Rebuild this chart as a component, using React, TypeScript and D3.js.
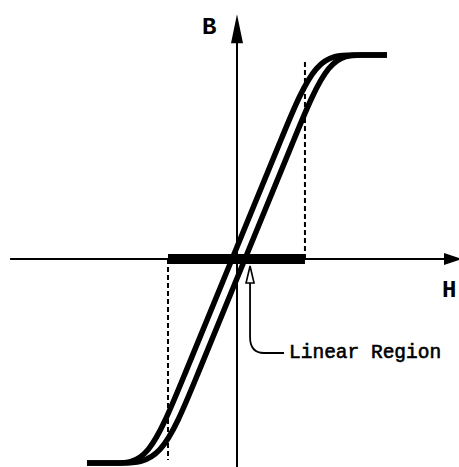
import React, { useEffect, useRef } from 'react';
import * as d3 from 'd3';

// descending branch (comes down from +saturation on the left side)
const descendingH = [1, 0.78, 0.525, 0.302, -0.033, -0.368, -0.591, -0.82, -1];
const descendingB = [1, 1, 1, 0.6, 0, -0.6, -1, -1, -1];

// ascending branch (goes up from -saturation on the right side)
const ascendingH = [-1, -0.78, -0.505, -0.282, 0.053, 0.388, 0.611, 0.84, 1];
const ascendingB = [-1, -1, -1, -0.6, 0, 0.6, 1, 1, 1];

// linear region on the H axis, and how far the dashed guides reach
const linearRegion = [-0.46, 0.453];
const guideB = [-0.985, 0.975];

// extents of the two axes
const hAxisExtent = [-1.513, 1.5];
const bAxisExtent = [-1.03, 1.2];

const pointerH = 0.087;
const axisLabels = ['H', 'B'];
const regionLabel = 'Linear Region';

const W = 459;
const H = 467;

const App = () => {
  const ref = useRef<SVGSVGElement>(null);

  useEffect(() => {
    const svg = d3.select(ref.current);
    svg.selectAll('*').remove();

    const x = d3.scaleLinear().domain([-1, 1]).range([87, 387]);
    const y = d3.scaleLinear().domain([-1, 1]).range([463, 55]);

    const line = d3
      .line<[number, number]>()
      .x(d => x(d[0]))
      .y(d => y(d[1]))
      .curve(d3.curveBasis);

    const x0 = x(0);
    const y0 = y(0);

    // H axis
    const hEnd = x(hAxisExtent[1]);
    svg.append('line')
      .attr('x1', x(hAxisExtent[0])).attr('x2', hEnd - 10)
      .attr('y1', y0).attr('y2', y0)
      .attr('stroke', '#000').attr('stroke-width', 2);
    svg.append('path')
      .attr('d', `M${hEnd},${y0} L${hEnd - 18},${y0 - 6} L${hEnd - 18},${y0 + 6} Z`)
      .attr('fill', '#000');

    // B axis
    const bTop = y(bAxisExtent[1]);
    svg.append('line')
      .attr('x1', x0).attr('x2', x0)
      .attr('y1', y(bAxisExtent[0])).attr('y2', bTop + 10)
      .attr('stroke', '#000').attr('stroke-width', 2);
    svg.append('path')
      .attr('d', `M${x0},${bTop} L${x0 - 6},${bTop + 29} L${x0 + 6},${bTop + 29} Z`)
      .attr('fill', '#000');

    // dashed guides
    linearRegion.forEach((h, i) => {
      svg.append('line')
        .attr('x1', x(h)).attr('x2', x(h))
        .attr('y1', y0).attr('y2', y(guideB[i]))
        .attr('stroke', '#000').attr('stroke-width', 2)
        .attr('stroke-dasharray', '5,3');
    });

    // linear region bar
    svg.append('rect')
      .attr('x', x(linearRegion[0]))
      .attr('y', y0 - 5)
      .attr('width', x(linearRegion[1]) - x(linearRegion[0]))
      .attr('height', 10)
      .attr('fill', '#000');

    // hysteresis branches
    const branches: [number, number][][] = [
      descendingH.map((h, i) => [h, descendingB[i]]),
      ascendingH.map((h, i) => [h, ascendingB[i]]),
    ];
    svg.selectAll('path.branch')
      .data(branches)
      .enter()
      .append('path')
      .attr('class', 'branch')
      .attr('d', d => line(d))
      .attr('fill', 'none')
      .attr('stroke', '#000')
      .attr('stroke-width', 5.5)
      .attr('stroke-linejoin', 'round');

    // pointer to the linear region
    const px = x(pointerH);
    const tipY = y0 + 7;
    svg.append('path')
      .attr('d', `M${px},${tipY + 14} L${px},${y0 + 78} Q${px},${y0 + 94} ${px + 14},${y0 + 94} L${px + 34},${y0 + 94}`)
      .attr('fill', 'none')
      .attr('stroke', '#000')
      .attr('stroke-width', 1.8);
    svg.append('path')
      .attr('d', `M${px},${tipY} L${px - 4},${tipY + 17} L${px + 4},${tipY + 17} Z`)
      .attr('fill', '#fff')
      .attr('stroke', '#000')
      .attr('stroke-width', 1.6);

    svg.append('text')
      .attr('x', px + 39)
      .attr('y', y0 + 99)
      .attr('font-family', '"Liberation Mono", "DejaVu Sans Mono", monospace')
      .attr('font-size', 19.5)
      .attr('stroke', '#000')
      .attr('stroke-width', 0.6)
      .text(regionLabel);

    // axis labels
    svg.append('text')
      .attr('x', hEnd - 20)
      .attr('y', y0 + 38)
      .attr('font-family', '"Liberation Mono", monospace')
      .attr('font-weight', 'bold')
      .attr('font-size', 24)
      .text(axisLabels[0]);
    svg.append('text')
      .attr('x', x0 - 35)
      .attr('y', bTop + 20)
      .attr('font-family', '"Liberation Mono", monospace')
      .attr('font-weight', 'bold')
      .attr('font-size', 24)
      .text(axisLabels[1]);
  }, []);

  return (
    <svg
      ref={ref}
      width={W}
      height={H}
      style={{ position: 'absolute', left: 0, top: 0, background: '#fff' }}
    />
  );
};

export default App;
